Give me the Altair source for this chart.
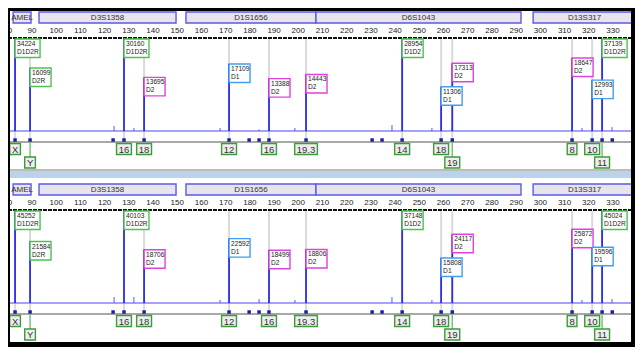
import altair as alt
import pandas as pd

# ---------------- data ----------------
LOCI = ["AMEL", "D3S1358", "D1S1656", "D6S1043", "D13S317"]
LOCUS_START = [82.2, 92.9, 153.6, 207.3, 297.0]
LOCUS_END = [89.6, 149.5, 207.3, 292.0, 339.5]

TICKS = [80, 90, 100, 110, 120, 130, 140, 150, 160, 170, 180, 190, 200,
         210, 220, 230, 240, 250, 260, 270, 280, 290, 300, 310, 320, 330]

ALLELES = ["X", "Y", "16", "18", "12", "16", "19.3", "14", "18", "19", "8", "10", "11"]
ALLELE_BP = [83.0, 89.2, 128.0, 136.3, 171.4, 187.9, 203.2, 242.9, 259.0, 263.6, 313.1, 321.4, 325.5]
GENOTYPES = ["D1D2R", "D2R", "D1D2R", "D2", "D1", "D2", "D2", "D1D2", "D1", "D2", "D2", "D1", "D1D2R"]
HEIGHTS_TOP = [34224, 16099, 30160, 13695, 17109, 13388, 14443, 28954, 11306, 17313, 18647, 12993, 37139]
HEIGHTS_BOTTOM = [45252, 21584, 40103, 18706, 22592, 18499, 18806, 37148, 15808, 24117, 25872, 19596, 45024]

EMPTY_BINS = [123.5, 179.7, 183.8, 230.5, 234.6, 329.7]

MINOR_BP = [123.9, 132.1, 167.7, 183.8, 198.6, 238.7, 255.2, 317.2, 329.6]
MINOR_H_TOP = [1280, 770, 770, 400, 770, 1530, 770, 770, 1000]
MINOR_H_BOTTOM = [2100, 2100, 1050, 1400, 1050, 2100, 1050, 1050, 1400]

# ---------------- layout helpers ----------------
W, H = 627, 339
PX_PER_BP = 2.4208
X_MIN = 90 - 24 / PX_PER_BP
X_MAX = X_MIN + W / PX_PER_BP
FONT = "Liberation Sans"

xs = alt.Scale(domain=[X_MIN, X_MAX], nice=False, zero=False)


def X(field):
    return alt.X(field, type="quantitative", scale=xs, axis=None)


def char_w(s):
    w = 0
    for c in s:
        w += 2.6 if c == "." else (5.2 if c.isdigit() else 6.2)
    return w


def kind(g):
    if g == "D1":
        return "D1"
    if g == "D2":
        return "D2"
    return "both"


loci = pd.DataFrame({"name": LOCI, "start": LOCUS_START, "end": LOCUS_END})
loci["mid"] = (loci["start"] + loci["end"]) / 2
ticks = pd.DataFrame({"t": TICKS, "lab": [str(t) for t in TICKS]})

rows, prev = [], None
for a, bp in zip(ALLELES, ALLELE_BP):
    rows.append(2 if prev is not None and bp - prev < 7 else 1)
    prev = bp
alle = pd.DataFrame({"allele": ALLELES, "bp": ALLELE_BP, "row": rows, "geno": GENOTYPES})
half = [(char_w(a) + 4.5) / 2 / PX_PER_BP for a in ALLELES]
alle["x0"] = alle["bp"] - half
alle["x1"] = alle["bp"] + half
bins = pd.DataFrame({"bp": ALLELE_BP + EMPTY_BINS})

layers = []


def panel(off, M, heights, minor_h):
    ys = alt.Scale(domain=[0, M], range=[off + 123, off + 31], clamp=True, nice=False, zero=True)

    def Y(field):
        return alt.Y(field, type="quantitative", scale=ys, axis=None)

    L = []
    # locus bar
    L.append(alt.Chart(loci).mark_rect(fill="#e8e4ec", stroke="#5a5ae8", strokeWidth=1.4).encode(
        x=X("start"), x2="end", y=alt.value(off + 4), y2=alt.value(off + 15)))
    L.append(alt.Chart(loci).mark_text(font=FONT, fontSize=8, color="#333333", baseline="middle").encode(
        x=X("mid"), y=alt.value(off + 9.8), text="name:N"))
    # size ruler
    L.append(alt.Chart(ticks).mark_text(font=FONT, fontSize=8, color="#222222", baseline="middle").encode(
        x=X("t"), y=alt.value(off + 23), text="lab:N"))
    L.append(alt.Chart(ticks).mark_rule(color="#111111", strokeWidth=2, strokeDash=[4, 1]).encode(
        x=alt.value(0), x2=alt.value(W), y=alt.value(off + 30)))
    # bin guide lines
    L.append(alt.Chart(alle).mark_rule(color="#dadada", strokeWidth=2).encode(
        x=X("bp"), y=alt.value(off + 31), y2=alt.value(off + 132)))
    # trace
    peaks = pd.DataFrame({"bp": ALLELE_BP, "h": list(heights)})
    peaks["z"] = 0
    minor = pd.DataFrame({"bp": MINOR_BP, "h": list(minor_h)})
    minor["z"] = 0
    base = pd.DataFrame({"a": [X_MIN], "b": [X_MAX], "z": [0]})
    L.append(alt.Chart(base).mark_rule(color="#4646f5", strokeWidth=1).encode(
        x=X("a"), x2="b", y=Y("z")))
    L.append(alt.Chart(minor).mark_rule(color="#5a5af0", strokeWidth=1).encode(
        x=X("bp"), y=Y("z"), y2="h"))
    L.append(alt.Chart(peaks).mark_rule(color="#2e2ee8", strokeWidth=1.8).encode(
        x=X("bp"), y=Y("z"), y2="h"))
    # peak labels
    lab = alle.copy()
    lab["h"] = list(heights)
    lab["top"] = [min(h, M) for h in heights]
    lab["bot"] = lab["top"] - 18.5 * M / 92
    lab["x1b"] = lab["bp"] + [max(21, 5 * len(g)) / PX_PER_BP for g in GENOTYPES]
    lab["num"] = [str(h) for h in heights]
    lab["kind"] = [kind(g) for g in GENOTYPES]
    L.append(alt.Chart(lab).mark_rect(fill="white", strokeWidth=1.4).encode(
        x=X("bp"), x2="x1b", y=Y("top"), y2="bot",
        stroke=alt.Stroke("kind:N", legend=None,
                          scale=alt.Scale(domain=["both", "D1", "D2"],
                                          range=["#4cc44c", "#3f9ff0", "#e040e0"]))))
    L.append(alt.Chart(lab).mark_text(font=FONT, fontSize=6.6, color="#222222", align="left",
                                      baseline="top", dx=2, dy=2).encode(
        x=X("bp"), y=Y("top"), text="num:N"))
    L.append(alt.Chart(lab).mark_text(font=FONT, fontSize=6.6, color="#222222", align="left",
                                      baseline="top", dx=2, dy=10).encode(
        x=X("bp"), y=Y("top"), text="geno:N"))
    # allele call area
    L.append(alt.Chart(ticks).mark_rule(color="#a8a8a8", strokeWidth=1.5).encode(
        x=alt.value(0), x2=alt.value(W), y=alt.value(off + 134)))
    L.append(alt.Chart(alle).transform_filter("datum.row == 2").mark_rule(
        color="#7cc27c", strokeWidth=1.5).encode(
        x=X("bp"), y=alt.value(off + 134), y2=alt.value(off + 149)))
    L.append(alt.Chart(bins).mark_square(color="#1c1ca8", size=12, opacity=1).encode(
        x=X("bp"), y=alt.value(off + 132)))
    for r, (y0, y1) in {1: (off + 135.5, off + 146.5), 2: (off + 149, off + 160)}.items():
        sub = alt.Chart(alle).transform_filter(f"datum.row == {r}")
        L.append(sub.mark_rect(fill="#eeeeee", stroke="#3c9c3c", strokeWidth=1.4).encode(
            x=X("x0"), x2="x1", y=alt.value(y0), y2=alt.value(y1)))
        L.append(sub.mark_text(font=FONT, fontSize=9.5, color="#333333", baseline="middle").encode(
            x=X("bp"), y=alt.value((y0 + y1) / 2 + 0.5), text="allele:N"))
    return L


layers += panel(0, 23500, HEIGHTS_TOP, MINOR_H_TOP)
# separator between panels
layers.append(alt.Chart(ticks).mark_rule(color="#bdbdbd", strokeWidth=1.5).encode(
    x=alt.value(0), x2=alt.value(W), y=alt.value(162)))
layers.append(alt.Chart(ticks).mark_rect(fill="#bcd2ea").encode(
    x=alt.value(0), x2=alt.value(W), y=alt.value(163), y2=alt.value(170)))
layers += panel(172, 32300, HEIGHTS_BOTTOM, MINOR_H_BOTTOM)

# outer black frame
for (a, b, c, d) in [(0, W, 0, 2.5), (0, 1.6, 0, H), (623.5, W, 0, H), (0, W, 334, H)]:
    layers.append(alt.Chart(ticks).mark_rect(fill="black").encode(
        x=alt.value(a), x2=alt.value(b), y=alt.value(c), y2=alt.value(d)))

chart = alt.layer(*layers).resolve_scale(y="independent").properties(
    width=W, height=H, padding=0, autosize=alt.AutoSizeParams(type="none"),
    background="white"
).configure_view(stroke=None)

chart.save("out.html", embed_options={"renderer": "svg", "actions": False})
